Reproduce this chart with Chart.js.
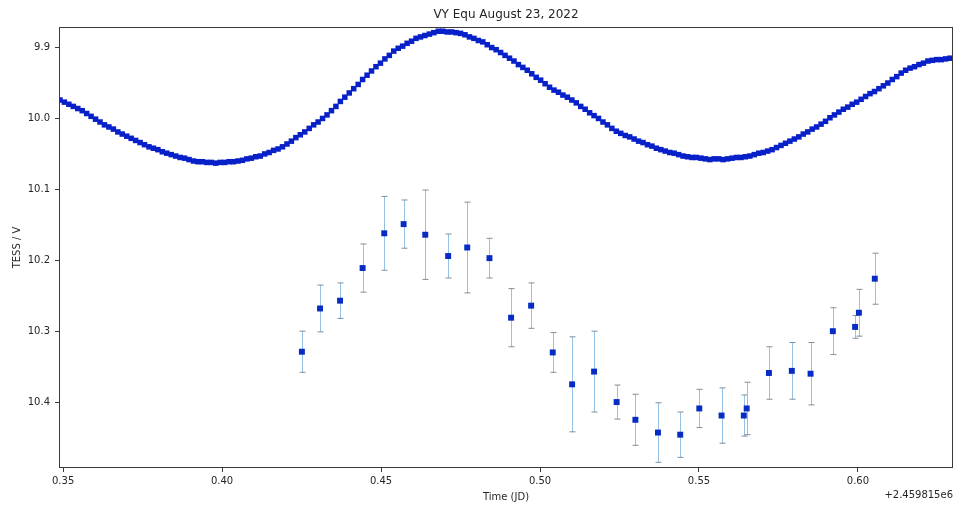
<!DOCTYPE html>
<html>
<head>
<meta charset="utf-8">
<script src="https://cdn.jsdelivr.net/npm/chart.js@4/dist/chart.umd.min.js"></script>
<style>
  html, body { margin: 0; padding: 0; background: #fff; }
  #wrap { width: 955px; height: 506px; }
</style>
</head>
<body>
<div id="wrap"><canvas id="lc" width="955" height="506"></canvas></div>
<script>
// TESS light curve (2-min cadence), time offset from 2459815
const tessTimes = [
  0.3490, 0.3504, 0.3518, 0.3532, 0.3546, 0.3560, 0.3574, 0.3588, 0.3602, 0.3616,
  0.3630, 0.3644, 0.3658, 0.3672, 0.3686, 0.3700, 0.3714, 0.3728, 0.3742, 0.3756,
  0.3770, 0.3784, 0.3798, 0.3812, 0.3826, 0.3840, 0.3854, 0.3868, 0.3882, 0.3896,
  0.3910, 0.3924, 0.3938, 0.3952, 0.3966, 0.3980, 0.3994, 0.4008, 0.4022, 0.4036,
  0.4050, 0.4064, 0.4078, 0.4092, 0.4106, 0.4120, 0.4134, 0.4148, 0.4162, 0.4176,
  0.4190, 0.4204, 0.4218, 0.4232, 0.4246, 0.4260, 0.4274, 0.4288, 0.4302, 0.4316,
  0.4330, 0.4344, 0.4358, 0.4372, 0.4386, 0.4400, 0.4414, 0.4428, 0.4442, 0.4456,
  0.4470, 0.4484, 0.4498, 0.4512, 0.4526, 0.4540, 0.4554, 0.4568, 0.4582, 0.4596,
  0.4610, 0.4624, 0.4638, 0.4652, 0.4666, 0.4680, 0.4694, 0.4708, 0.4722, 0.4736,
  0.4750, 0.4764, 0.4778, 0.4792, 0.4806, 0.4820, 0.4834, 0.4848, 0.4862, 0.4876,
  0.4890, 0.4904, 0.4918, 0.4932, 0.4946, 0.4960, 0.4974, 0.4988, 0.5002, 0.5016,
  0.5030, 0.5044, 0.5058, 0.5072, 0.5086, 0.5100, 0.5114, 0.5128, 0.5142, 0.5156,
  0.5170, 0.5184, 0.5198, 0.5212, 0.5226, 0.5240, 0.5254, 0.5268, 0.5282, 0.5296,
  0.5310, 0.5324, 0.5338, 0.5352, 0.5366, 0.5380, 0.5394, 0.5408, 0.5422, 0.5436,
  0.5450, 0.5464, 0.5478, 0.5492, 0.5506, 0.5520, 0.5534, 0.5548, 0.5562, 0.5576,
  0.5590, 0.5604, 0.5618, 0.5632, 0.5646, 0.5660, 0.5674, 0.5688, 0.5702, 0.5716,
  0.5730, 0.5744, 0.5758, 0.5772, 0.5786, 0.5800, 0.5814, 0.5828, 0.5842, 0.5856,
  0.5870, 0.5884, 0.5898, 0.5912, 0.5926, 0.5940, 0.5954, 0.5968, 0.5982, 0.5996,
  0.6010, 0.6024, 0.6038, 0.6052, 0.6066, 0.6080, 0.6094, 0.6108, 0.6122, 0.6136,
  0.6150, 0.6164, 0.6178, 0.6192, 0.6206, 0.6220, 0.6234, 0.6248, 0.6262, 0.6276,
  0.6290
];
const tessMags = [
  9.974, 9.977, 9.980, 9.983, 9.986, 9.989, 9.993, 9.997, 10.001, 10.005,
  10.009, 10.012, 10.015, 10.019, 10.022, 10.025, 10.028, 10.031, 10.034, 10.037,
  10.040, 10.042, 10.044, 10.047, 10.049, 10.051, 10.053, 10.055, 10.056, 10.058,
  10.060, 10.061, 10.061, 10.062, 10.062, 10.063, 10.062, 10.062, 10.061, 10.061,
  10.060, 10.059, 10.057, 10.056, 10.054, 10.053, 10.050, 10.048, 10.045, 10.043,
  10.040, 10.036, 10.032, 10.027, 10.023, 10.019, 10.014, 10.009, 10.005, 10.000,
  9.995, 9.989, 9.983, 9.976, 9.970, 9.964, 9.958, 9.952, 9.945, 9.939,
  9.933, 9.927, 9.922, 9.916, 9.911, 9.905, 9.901, 9.898, 9.894, 9.891,
  9.887, 9.885, 9.883, 9.881, 9.879, 9.877, 9.877, 9.878, 9.878, 9.879,
  9.880, 9.882, 9.885, 9.887, 9.890, 9.892, 9.896, 9.900, 9.903, 9.907,
  9.911, 9.915, 9.919, 9.924, 9.928, 9.932, 9.937, 9.942, 9.946, 9.951,
  9.956, 9.960, 9.963, 9.967, 9.970, 9.974, 9.978, 9.983, 9.987, 9.992,
  9.996, 10.000, 10.005, 10.009, 10.014, 10.018, 10.021, 10.024, 10.026, 10.029,
  10.032, 10.034, 10.037, 10.039, 10.042, 10.044, 10.046, 10.048, 10.049, 10.051,
  10.053, 10.054, 10.055, 10.055, 10.056, 10.057, 10.058, 10.057, 10.057, 10.058,
  10.057, 10.056, 10.055, 10.055, 10.054, 10.053, 10.051, 10.049, 10.048, 10.046,
  10.044, 10.041, 10.038, 10.035, 10.032, 10.029, 10.026, 10.022, 10.019, 10.015,
  10.012, 10.008, 10.004, 9.999, 9.995, 9.991, 9.987, 9.984, 9.980, 9.977,
  9.973, 9.969, 9.965, 9.962, 9.958, 9.954, 9.950, 9.945, 9.941, 9.936,
  9.932, 9.929, 9.927, 9.924, 9.922, 9.919, 9.918, 9.917, 9.917, 9.916,
  9.915
];

// ground-based V photometry with errors
const vTimes = [
  0.4251, 0.4308, 0.4371, 0.4442, 0.4510, 0.4571, 0.4639, 0.4711, 0.4771, 0.4841,
  0.4909, 0.4972, 0.5040, 0.5101, 0.5170, 0.5241, 0.5300, 0.5371, 0.5441, 0.5501,
  0.5571, 0.5641, 0.5650, 0.5720, 0.5792, 0.5851, 0.5921, 0.5991, 0.6003, 0.6053
];
const vMags = [
  10.329, 10.268, 10.257, 10.211, 10.162, 10.149, 10.164, 10.194, 10.182, 10.197,
  10.281, 10.264, 10.330, 10.375, 10.357, 10.400, 10.425, 10.443, 10.446, 10.409,
  10.419, 10.419, 10.409, 10.359, 10.356, 10.360, 10.300, 10.294, 10.274, 10.226
];
const vErrs = [
  0.029, 0.033, 0.025, 0.034, 0.052, 0.034, 0.063, 0.031, 0.064, 0.028,
  0.041, 0.032, 0.028, 0.067, 0.057, 0.024, 0.036, 0.042, 0.032, 0.027,
  0.039, 0.029, 0.037, 0.037, 0.040, 0.044, 0.033, 0.016, 0.033, 0.036
];

const titleText = "VY Equ August 23, 2022";
const xLabel = "Time (JD)";
const yLabel = "TESS / V";
const offsetText = "+2.459815e6";

const FONT = "'DejaVu Sans', sans-serif";
const TEXT = "#262626";

// error bars for the V points, drawn under the markers
const errorBars = {
  id: "errorBars",
  beforeDatasetsDraw(chart) {
    const { ctx, scales: { x, y } } = chart;
    ctx.save();
    for (let i = 0; i < vTimes.length; i++) {
      const px = Math.round(x.getPixelForValue(vTimes[i])) + 0.5;
      const top = y.getPixelForValue(vMags[i] - vErrs[i]);
      const bot = y.getPixelForValue(vMags[i] + vErrs[i]);
      ctx.strokeStyle = "#94c2e4";
      ctx.lineWidth = 1;
      ctx.beginPath();
      ctx.moveTo(px, top);
      ctx.lineTo(px, bot);
      ctx.stroke();
      ctx.strokeStyle = "#7f8e9b";
      ctx.beginPath();
      ctx.moveTo(px - 3, top);
      ctx.lineTo(px + 3, top);
      ctx.moveTo(px - 3, bot);
      ctx.lineTo(px + 3, bot);
      ctx.stroke();
    }
    ctx.restore();
  }
};

// frame, title and offset label like matplotlib
const decorations = {
  id: "decorations",
  afterDraw(chart) {
    const { ctx, chartArea: a } = chart;
    ctx.save();
    ctx.strokeStyle = "#3a3a3a";
    ctx.lineWidth = 1;
    ctx.strokeRect(a.left + 0.5, a.top + 0.5, a.right - a.left - 1, a.bottom - a.top - 1);
    ctx.fillStyle = TEXT;
    ctx.font = "12px " + FONT;
    ctx.textAlign = "center";
    ctx.textBaseline = "middle";
    ctx.fillText(titleText, (a.left + a.right) / 2, 15);
    ctx.font = "10px " + FONT;
    ctx.textAlign = "right";
    ctx.fillText(offsetText, a.right, 495);
    ctx.restore();
  }
};

new Chart(document.getElementById("lc"), {
  type: "scatter",
  data: {
    datasets: [
      {
        label: "TESS",
        data: tessTimes.map((t, i) => ({ x: t, y: tessMags[i] })),
        pointStyle: "rect",
        pointRadius: 3.9,
        pointBorderWidth: 0,
        backgroundColor: "#0820c8",
        borderColor: "#0820c8"
      },
      {
        label: "V",
        data: vTimes.map((t, i) => ({ x: t, y: vMags[i] })),
        pointStyle: "rect",
        pointRadius: 4.2,
        pointBorderWidth: 0,
        backgroundColor: "#062cc4",
        borderColor: "#062cc4"
      }
    ]
  },
  options: {
    responsive: false,
    animation: false,
    layout: { autoPadding: false, padding: { top: 27, right: 2, left: 0, bottom: 0 } },
    plugins: {
      legend: { display: false },
      tooltip: { enabled: false }
    },
    scales: {
      x: {
        type: "linear",
        min: 0.3487,
        max: 0.6299,
        border: { display: false },
        grid: { drawOnChartArea: false, drawTicks: true, tickLength: 4, color: "#3a3a3a" },
        ticks: {
          stepSize: 0.05,
          includeBounds: false,
          padding: 3,
          maxRotation: 0,
          color: TEXT,
          font: { family: FONT, size: 10 },
          callback: (v) => v.toFixed(2)
        },
        title: {
          display: true,
          text: xLabel,
          color: TEXT,
          font: { family: FONT, size: 10 },
          padding: { top: 0, bottom: 3 }
        },
        afterFit: (s) => { s.height = 38; s.paddingLeft = 0; s.paddingRight = 0; }
      },
      y: {
        type: "linear",
        reverse: true,
        min: 9.871,
        max: 10.493,
        border: { display: false },
        grid: { drawOnChartArea: false, drawTicks: true, tickLength: 4, color: "#3a3a3a" },
        ticks: {
          stepSize: 0.1,
          includeBounds: false,
          padding: 5,
          color: TEXT,
          font: { family: FONT, size: 10 },
          callback: (v) => v.toFixed(1)
        },
        title: {
          display: true,
          text: yLabel,
          color: TEXT,
          font: { family: FONT, size: 10 },
          padding: { top: 11, bottom: 0 }
        },
        afterFit: (s) => { s.width = 59; }
      }
    }
  },
  plugins: [errorBars, decorations]
});
</script>
</body>
</html>
